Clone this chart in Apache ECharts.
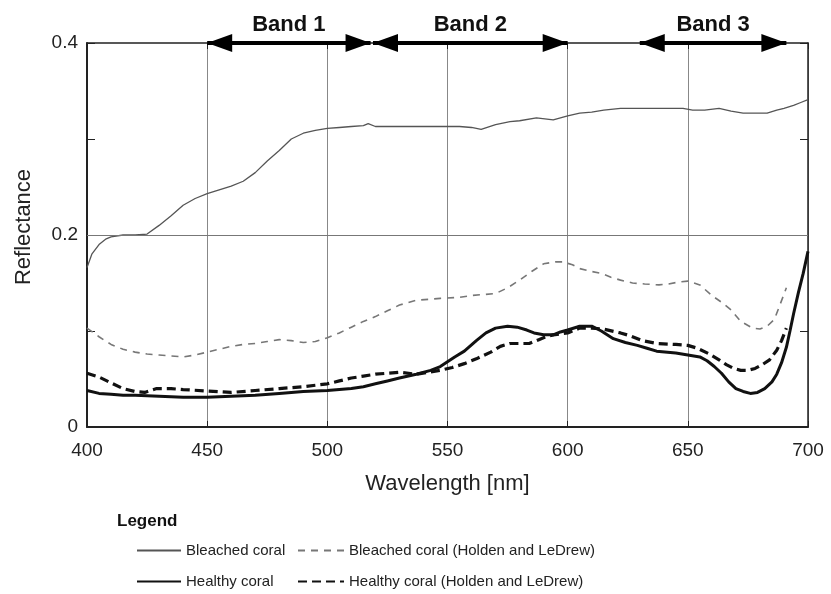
<!DOCTYPE html>
<html><head><meta charset="utf-8">
<script src="https://cdn.jsdelivr.net/npm/echarts@6/dist/echarts.min.js"></script>
<style>html,body{margin:0;padding:0;background:#fff}#c{width:831px;height:594px}</style>
</head><body><div id="c"></div>
<script>
// ---- data ----
const xTicks = [400, 450, 500, 550, 600, 650, 700];
const yTickLabels = ['0', '0.2', '0.4'];

const bleachedWl = [400,402,405,408,410,415,420,425,430,435,440,445,450,455,460,465,470,475,480,485,490,495,500,505,510,515,517,520,525,530,540,550,555,560,564,570,576,580,587,594,600,605,610,615,622,630,640,648,652,657,663,668,673,678,683,687,690,694,697,700];
const bleachedVal = [0.166,0.18,0.19,0.196,0.198,0.2,0.2,0.201,0.21,0.22,0.231,0.238,0.243,0.247,0.251,0.256,0.265,0.277,0.288,0.3,0.306,0.309,0.311,0.312,0.313,0.314,0.316,0.313,0.313,0.313,0.313,0.313,0.313,0.312,0.31,0.315,0.318,0.319,0.322,0.32,0.324,0.327,0.328,0.33,0.332,0.332,0.332,0.332,0.33,0.33,0.332,0.329,0.327,0.327,0.327,0.33,0.332,0.335,0.338,0.341];

const bleachedHLWl = [400,405,410,415,420,425,430,435,440,445,450,455,460,465,470,475,480,485,490,495,500,505,510,515,520,525,530,537,547,555,560,565,570,575,580,585,590,595,598,602,605,610,614,618,622,627,632,638,642,646,650,655,660,664,668,672,677,680,683,686,688,691];
const bleachedHLVal = [0.103,0.094,0.086,0.081,0.078,0.076,0.075,0.074,0.073,0.075,0.078,0.081,0.084,0.086,0.087,0.089,0.091,0.09,0.088,0.089,0.093,0.098,0.104,0.11,0.115,0.121,0.127,0.132,0.134,0.135,0.137,0.138,0.139,0.145,0.153,0.162,0.17,0.172,0.172,0.169,0.165,0.162,0.16,0.156,0.153,0.15,0.149,0.148,0.149,0.151,0.152,0.148,0.137,0.13,0.122,0.11,0.103,0.102,0.105,0.112,0.125,0.145];

const healthyWl = [400,405,410,415,420,430,440,450,460,470,480,490,500,510,515,520,525,530,537,543,547,550,553,557,562,566,570,575,579,583,586,590,594,597,600,605,610,614,619,624,629,633,637,645,650,655,658,661,664,667,670,673,676,679,682,685,687,689,691,692.5,694,696,698,700];
const healthyVal = [0.038,0.035,0.034,0.033,0.033,0.032,0.031,0.031,0.032,0.033,0.035,0.037,0.038,0.04,0.042,0.045,0.048,0.051,0.055,0.059,0.063,0.068,0.073,0.079,0.09,0.098,0.103,0.105,0.104,0.101,0.098,0.096,0.096,0.099,0.101,0.105,0.105,0.1,0.092,0.088,0.085,0.082,0.079,0.077,0.075,0.073,0.069,0.063,0.056,0.047,0.04,0.037,0.035,0.036,0.04,0.047,0.055,0.067,0.083,0.1,0.118,0.14,0.16,0.183];

const healthyHLWl = [400,405,410,415,420,424,429,435,440,450,460,470,480,490,500,505,510,515,520,530,537,547,552,557,562,568,572,576,580,584,588,591,594,600,605,610,615,622,626,631,637,645,650,654,659,663,666,669,672,675,678,681,684,687,689,691];
const healthyHLVal = [0.056,0.052,0.046,0.04,0.037,0.036,0.04,0.04,0.039,0.0375,0.036,0.038,0.04,0.042,0.045,0.048,0.051,0.053,0.055,0.057,0.055,0.059,0.062,0.066,0.071,0.078,0.084,0.087,0.087,0.087,0.091,0.094,0.096,0.098,0.103,0.103,0.102,0.098,0.095,0.09,0.087,0.086,0.085,0.082,0.076,0.07,0.065,0.061,0.059,0.059,0.061,0.065,0.07,0.08,0.09,0.103];

const bandNames = ['Band 1', 'Band 2', 'Band 3'];
const bandStart = [450, 519, 630];
const bandEnd = [518, 600, 691];

const seriesNames = ['Bleached coral', 'Healthy coral', 'Bleached coral (Holden and LeDrew)', 'Healthy coral (Holden and LeDrew)'];

// ---- chart ----
const zip = (a, b) => a.map((x, i) => [x, b[i]]);
const FONT = 'Liberation Sans';
const chart = echarts.init(document.getElementById('c'), null, {renderer: 'canvas'});

const bandLines = bandNames.map((n, i) => [
  {coord: [bandStart[i], 0.4], name: n},
  {coord: [bandEnd[i], 0.4]}
]);

const legendCommon = {
  orient: 'vertical', top: 538, itemHeight: 12, itemGap: 16,
  itemStyle: {opacity: 0},
  textStyle: {fontFamily: FONT, fontSize: 15, color: '#222'}
};

chart.setOption({
  animation: false,
  backgroundColor: '#fff',
  textStyle: {fontFamily: FONT},
  grid: {left: 87, right: 23, top: 43, bottom: 167},
  title: {text: 'Legend', left: 112, top: 508,
    textStyle: {fontFamily: FONT, fontSize: 17, fontWeight: 'bold', color: '#111'}},
  legend: [
    Object.assign({data: [seriesNames[0], seriesNames[1]], left: 131, itemWidth: 44}, legendCommon),
    Object.assign({data: [seriesNames[2], seriesNames[3]], left: 292, itemWidth: 46}, legendCommon)
  ],
  xAxis: [
    {type: 'value', min: xTicks[0], max: xTicks[xTicks.length - 1], interval: 50,
     name: 'Wavelength [nm]', nameLocation: 'middle', nameGap: 46,
     nameTextStyle: {fontFamily: FONT, fontSize: 22, color: '#222'},
     axisLine: {show: true, lineStyle: {color: '#222', width: 2}},
     axisTick: {show: true, inside: true, length: 6, lineStyle: {color: '#222'}},
     axisLabel: {fontFamily: FONT, fontSize: 19, color: '#222', margin: 14},
     splitLine: {show: true, lineStyle: {color: '#888', width: 1}}},
    {type: 'value', position: 'top', min: xTicks[0], max: xTicks[xTicks.length - 1], interval: 50,
     axisLine: {show: true, onZero: false, lineStyle: {color: '#222', width: 1.5}},
     axisTick: {show: true, inside: true, length: 6, lineStyle: {color: '#222'}},
     axisLabel: {show: false}, splitLine: {show: false}}
  ],
  yAxis: [
    {type: 'value', min: 0, max: 0.4, interval: 0.1,
     name: 'Reflectance', nameLocation: 'middle', nameGap: 52,
     nameTextStyle: {fontFamily: FONT, fontSize: 22, color: '#222', padding: [0, 0, 0, 16]},
     axisLine: {show: true, lineStyle: {color: '#222', width: 2}},
     axisTick: {show: true, inside: true, length: 8, lineStyle: {color: '#222'}},
     axisLabel: {fontFamily: FONT, fontSize: 19, color: '#222', margin: 9,
       formatter: v => { const k = Math.round(v * 10); return k % 2 === 0 ? yTickLabels[k / 2] : ''; }},
     splitLine: {show: false}},
    {type: 'value', position: 'right', min: 0, max: 0.4, interval: 0.1,
     axisLine: {show: true, onZero: false, lineStyle: {color: '#222', width: 1.5}},
     axisTick: {show: true, inside: true, length: 8, lineStyle: {color: '#222'}},
     axisLabel: {show: false}, splitLine: {show: false}}
  ],
  series: [
    {name: seriesNames[0], type: 'line', data: zip(bleachedWl, bleachedVal), symbol: 'none', clip: false,
     lineStyle: {color: '#555', width: 1.3}, itemStyle: {color: '#555'}, z: 3,
     markLine: {silent: true, symbol: 'none', label: {show: false},
       lineStyle: {color: '#777', width: 1, type: 'solid'},
       data: [{yAxis: 0.2}]}},
    {name: seriesNames[1], type: 'line', data: zip(healthyWl, healthyVal), symbol: 'none', clip: false,
     lineStyle: {color: '#111', width: 3}, itemStyle: {color: '#111'}, z: 4,
     markLine: {silent: true, symbol: ['path://M9,0L18,25L0,25Z', 'path://M9,0L18,25L0,25Z'],
       symbolSize: 25, symbolKeepAspect: true, symbolOffset: [[0, 12.5], [0, 12.5]],
       lineStyle: {color: '#000', width: 4, type: 'solid'},
       label: {show: true, position: 'insideMiddleTop', distance: 7, formatter: p => p.name,
         fontFamily: FONT, fontSize: 22, fontWeight: 'bold', color: '#111'},
       data: bandLines}},
    {name: seriesNames[2], type: 'line', data: zip(bleachedHLWl, bleachedHLVal), symbol: 'none', clip: false,
     lineStyle: {color: '#777', width: 1.6, type: [7, 6]}, itemStyle: {color: '#777'}, z: 3},
    {name: seriesNames[3], type: 'line', data: zip(healthyHLWl, healthyHLVal), symbol: 'none', clip: false,
     lineStyle: {color: '#111', width: 3.2, type: [9, 5]}, itemStyle: {color: '#111'}, z: 4}
  ]
});
</script></body></html>
